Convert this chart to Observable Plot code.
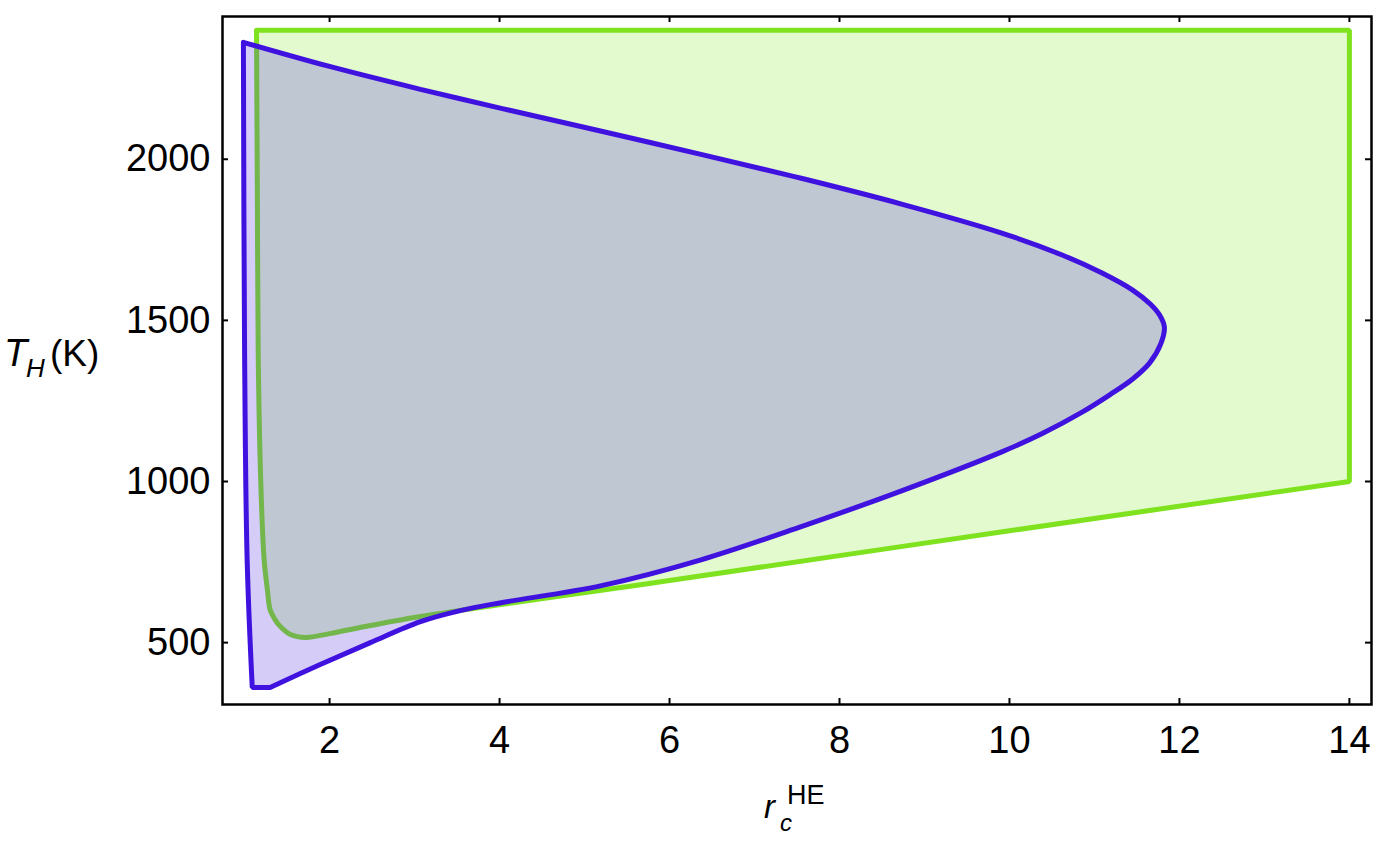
<!DOCTYPE html>
<html>
<head>
<meta charset="utf-8">
<script src="https://cdn.jsdelivr.net/npm/d3@7"></script>
<script src="https://cdn.jsdelivr.net/npm/@observablehq/plot@0.6"></script>
<style>
  html, body { margin: 0; padding: 0; background: white; }
  #chart { width: 1382px; height: 844px; }
</style>
</head>
<body>
<div id="chart"></div>
<script>
// ---- data ----
const xTicks = [2, 4, 6, 8, 10, 12, 14];
const yTicks = [500, 1000, 1500, 2000];
const xDomain = [0.74, 14.26];
const yDomain = [308, 2443];

// green region boundary (r_c^HE, T_H); repeated points are sharp corners
const greenR = [1.14, 1.14, 14, 14, 14, 14, 10, 6, 3.07, 2.48, 2.0, 1.72, 1.54, 1.40, 1.35, 1.30, 1.27, 1.23, 1.19, 1.16, 1.15, 1.14, 1.14];
const greenT = [2400, 2400, 2400, 2400, 1000, 1000, 847, 693, 581, 553, 528, 516, 525, 556, 575, 602, 660, 757, 1000, 1400, 1900, 2400, 2400];

// blue region boundary (r_c^HE, T_H); repeated points are sharp corners
const blueR = [0.986, 0.986, 2.0, 3.07, 4.02, 5.2, 6.37, 7.55, 8.73, 9.91, 10.62, 11.09, 11.45, 11.66, 11.77, 11.823,
               11.78, 11.65, 11.45, 11.18, 10.86, 10.38, 9.91, 8.73, 7.55, 6.37, 5.2, 4.02, 3.55, 3.07, 2.48, 1.89, 1.30, 1.30, 1.09, 1.09, 1.03, 1.0, 0.986, 0.986];
const blueT = [2363, 2363, 2288, 2217, 2158, 2087, 2015, 1941, 1861, 1771, 1703, 1647, 1594, 1550, 1515, 1479,
               1427, 1368, 1318, 1269, 1216, 1148, 1092, 971, 860, 757, 677, 624, 600, 565, 500, 432, 361, 361, 361, 361, 757, 1400, 2363, 2363];

const green = greenR.map((r, i) => ({r, T: greenT[i]}));
const blue = blueR.map((r, i) => ({r, T: blueT[i]}));

const greenColor = "#7fe21e";
const blueColor = "#4012e0";
const curve = "catmull-rom";

const svg = Plot.plot({
  width: 1382,
  height: 844,
  marginLeft: 222,
  marginRight: 11,
  marginTop: 16,
  marginBottom: 140,
  style: {fontFamily: "'Liberation Sans', Arial, sans-serif", fontSize: "38px", background: "white", color: "black"},
  x: {domain: xDomain, ticks: xTicks, tickSize: 0, tickPadding: 22, tickFormat: d => String(d), label: null},
  y: {domain: yDomain, ticks: yTicks, tickSize: 0, tickPadding: 12, tickFormat: d => String(d), label: null},
  marks: [
    Plot.line(green, {x: "r", y: "T", curve, fill: greenColor, fillOpacity: 0.22, stroke: "none"}),
    Plot.line(green, {x: "r", y: "T", curve, stroke: greenColor, strokeWidth: 5, strokeLinejoin: "miter"}),
    Plot.line(blue, {x: "r", y: "T", curve, fill: "#502ae2", fillOpacity: 0.24, stroke: "none"}),
    Plot.line(blue, {x: "r", y: "T", curve, stroke: blueColor, strokeWidth: 5, strokeLinejoin: "miter"}),
    Plot.frame({stroke: "black", strokeWidth: 2.5}),
    // inward tick marks on all four sides
    Plot.ruleX(xTicks, {x: d => d, y1: yDomain[0], y2: yDomain[0], insetTop: -6, stroke: "black", strokeWidth: 2}),
    Plot.ruleX(xTicks, {x: d => d, y1: yDomain[1], y2: yDomain[1], insetBottom: -6, stroke: "black", strokeWidth: 2}),
    Plot.ruleY(yTicks, {y: d => d, x1: xDomain[0], x2: xDomain[0], insetRight: -6, stroke: "black", strokeWidth: 2}),
    Plot.ruleY(yTicks, {y: d => d, x1: xDomain[1], x2: xDomain[1], insetLeft: -6, stroke: "black", strokeWidth: 2})
  ]
});

document.getElementById("chart").appendChild(svg);

// axis labels as real text
const s = d3.select(svg);
const font = "'Liberation Sans', Arial, sans-serif";
const yl = s.append("text").attr("font-family", font).attr("fill", "black").attr("text-anchor", "start");
yl.append("tspan").attr("x", 4).attr("y", 366).attr("font-size", 38).attr("font-style", "italic").text("T");
yl.append("tspan").attr("x", 26).attr("y", 377).attr("font-size", 26).attr("font-style", "italic").text("H");
yl.append("tspan").attr("x", 50).attr("y", 366).attr("font-size", 37).text("(K)");

const xl = s.append("text").attr("font-family", font).attr("fill", "black").attr("text-anchor", "start");
xl.append("tspan").attr("x", 764).attr("y", 818).attr("font-size", 33).attr("font-style", "italic").text("r");
xl.append("tspan").attr("x", 780).attr("y", 831).attr("font-size", 24).attr("font-style", "italic").text("c");
xl.append("tspan").attr("x", 787).attr("y", 804).attr("font-size", 27).text("HE");
</script>
</body>
</html>
